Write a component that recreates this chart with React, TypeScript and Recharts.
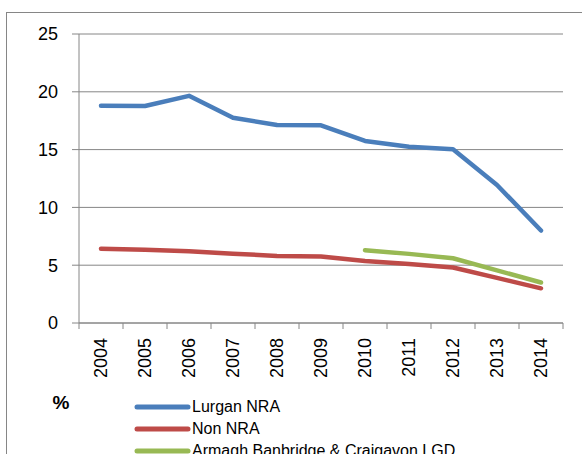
import React from 'react';
import { LineChart, Line, XAxis, YAxis, CartesianGrid, Legend } from 'recharts';

const years = ['2004', '2005', '2006', '2007', '2008', '2009', '2010', '2011', '2012', '2013', '2014'];
const lurganNRA = [18.8, 18.77, 19.65, 17.76, 17.12, 17.1, 15.75, 15.25, 15.02, 11.94, 8.0];
const nonNRA = [6.43, 6.34, 6.2, 6.0, 5.8, 5.76, 5.36, 5.1, 4.8, 3.9, 3.0];
const abcLGD = [null, null, null, null, null, null, 6.3, 5.98, 5.6, 4.55, 3.5];
const yTicks = [0, 5, 10, 15, 20, 25];

const seriesNames = ['Lurgan NRA', 'Non NRA', 'Armagh Banbridge & Craigavon LGD'];
const seriesColors = ['#4A7EBB', '#BE4B48', '#98B954'];

const data = years.map((y, i) => ({
  year: y,
  lurgan: lurganNRA[i],
  non: nonNRA[i],
  abc: abcLGD[i],
}));

const FONT = '"Liberation Sans", Arial, sans-serif';
const GRID = '#868686';

const XTick = (props: any) => {
  const { x, y, payload, index } = props;
  const off = payload.offset || 0;
  return (
    <g>
      <line x1={x - off} x2={x - off} y1={y - 15} y2={y - 9} stroke={GRID} strokeWidth={1} />
      {index === years.length - 1 && (
        <line x1={x + off} x2={x + off} y1={y - 15} y2={y - 9} stroke={GRID} strokeWidth={1} />
      )}
      <text
        transform={`translate(${x},${y}) rotate(-90)`}
        textAnchor="end"
        dy="0.35em"
        fontSize={18}
        fontFamily={FONT}
        fill="#000"
      >
        {payload.value}
      </text>
    </g>
  );
};

const LegendContent = () => (
  <div style={{ fontFamily: FONT, fontSize: 16, color: '#000', lineHeight: '22px' }}>
    {seriesNames.map((n, i) => (
      <div key={n} style={{ display: 'flex', alignItems: 'center', height: 22, whiteSpace: 'nowrap' }}>
        <svg width={57} height={8} style={{ display: 'block' }}>
          <line x1={3} x2={54} y1={4} y2={4} stroke={seriesColors[i]} strokeWidth={5} strokeLinecap="round" />
        </svg>
        <span style={{ marginLeft: 1 }}>{n}</span>
      </div>
    ))}
  </div>
);

const PercentLabel = (props: any) => {
  const vb = props.viewBox;
  return (
    <text
      x={vb.x + 61}
      y={vb.y + vb.height + 86}
      textAnchor="middle"
      fontSize={19}
      fontWeight="bold"
      fontFamily={FONT}
      fill="#000"
    >
      %
    </text>
  );
};

export default function App() {
  return (
    <div style={{ position: 'absolute', left: 0, top: 0, width: 582, height: 454, overflow: 'hidden', background: '#fff' }}>
      <div
        style={{
          position: 'absolute',
          left: 6,
          top: 12,
          width: 700,
          height: 600,
          border: `1px solid ${GRID}`,
          boxSizing: 'border-box',
        }}
      />
      <div style={{ position: 'absolute', left: 0, top: 0 }}>
        <LineChart width={582} height={454} data={data} margin={{ top: 34, right: 19, bottom: 0, left: 0 }}>
          <CartesianGrid horizontal={true} vertical={false} stroke={GRID} strokeWidth={1} />
          <XAxis
            dataKey="year"
            scale="band"
            height={131}
            stroke={GRID}
            tickLine={false}
            tickSize={6}
            tickMargin={9}
            interval={0}
            tick={<XTick />}
          />
          <YAxis
            width={79}
            domain={[0, 25]}
            ticks={yTicks}
            interval={0}
            stroke={GRID}
            tickSize={7}
            tickMargin={14}
            tick={{ fontSize: 18, fontFamily: FONT, fill: '#000' }}
            label={<PercentLabel />}
          />
          <Line dataKey="lurgan" name={seriesNames[0]} stroke={seriesColors[0]} strokeWidth={4.5} dot={false} isAnimationActive={false} strokeLinecap="round" strokeLinejoin="round" />
          <Line dataKey="non" name={seriesNames[1]} stroke={seriesColors[1]} strokeWidth={4.5} dot={false} isAnimationActive={false} strokeLinecap="round" strokeLinejoin="round" />
          <Line dataKey="abc" name={seriesNames[2]} stroke={seriesColors[2]} strokeWidth={4.5} dot={false} isAnimationActive={false} strokeLinecap="round" strokeLinejoin="round" />
          <Legend
            layout="horizontal"
            verticalAlign="middle"
            content={<LegendContent />}
            wrapperStyle={{ position: 'absolute', left: 134, top: 396, width: 440, height: 70 }}
          />
        </LineChart>
      </div>
    </div>
  );
}
